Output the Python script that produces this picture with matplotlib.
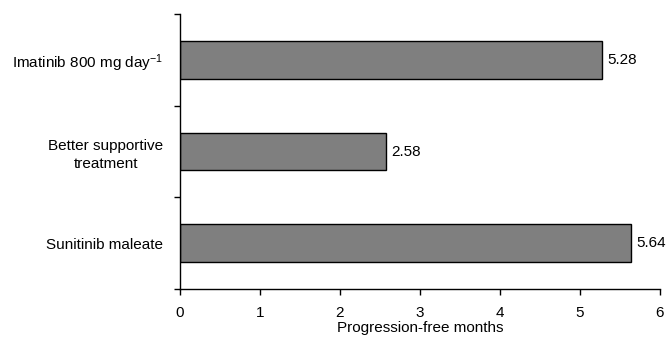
import matplotlib
matplotlib.use("Agg")
import matplotlib.pyplot as plt
import numpy as np

plt.rcParams['font.family'] = ['Liberation Sans', 'DejaVu Sans']
plt.rcParams['mathtext.default'] = 'regular'

treatments = ['Sunitinib maleate', 'Better supportive\ntreatment', r'Imatinib 800 mg day$^{-1}$']
months = [5.64, 2.58, 5.28]
x_ticks = [0, 1, 2, 3, 4, 5, 6]

fs = 11

fig = plt.figure(figsize=(6.68, 3.42), dpi=100)
ax = fig.add_axes([180 / 668, 53 / 342, 480 / 668, 275 / 342])

pos = np.arange(len(treatments)) + 0.5
ax.barh(pos, months, height=0.41, color='#7f7f7f', edgecolor='black', linewidth=1.0)

for y, v in zip(pos, months):
    ax.annotate(f'{v:.2f}', (v, y), xytext=(3.5, 0), textcoords='offset points',
                va='center', ha='left', fontsize=fs)

ax.set_xlim(0, 6)
ax.set_ylim(0, 3)
ax.set_xticks(x_ticks)
ax.set_xticklabels([str(t) for t in x_ticks], fontsize=fs)
ax.set_yticks([0, 1, 2, 3])
ax.set_yticklabels([])
ax.set_yticks(pos, minor=True)
ax.set_yticklabels(treatments, minor=True, fontsize=fs)
for lbl in ax.get_yticklabels(minor=True):
    lbl.set_multialignment('center')
    lbl.set_linespacing(1.35)
ax.tick_params(axis='y', which='minor', length=0, pad=12)
ax.tick_params(axis='both', which='major', direction='out', length=4, width=1)
ax.tick_params(axis='x', pad=8)

for side in ['top', 'right']:
    ax.spines[side].set_visible(False)
for side in ['left', 'bottom']:
    ax.spines[side].set_linewidth(1.0)

ax.set_xlabel('Progression-free months', fontsize=fs, labelpad=1)

fig.savefig('out.png', dpi=100)
